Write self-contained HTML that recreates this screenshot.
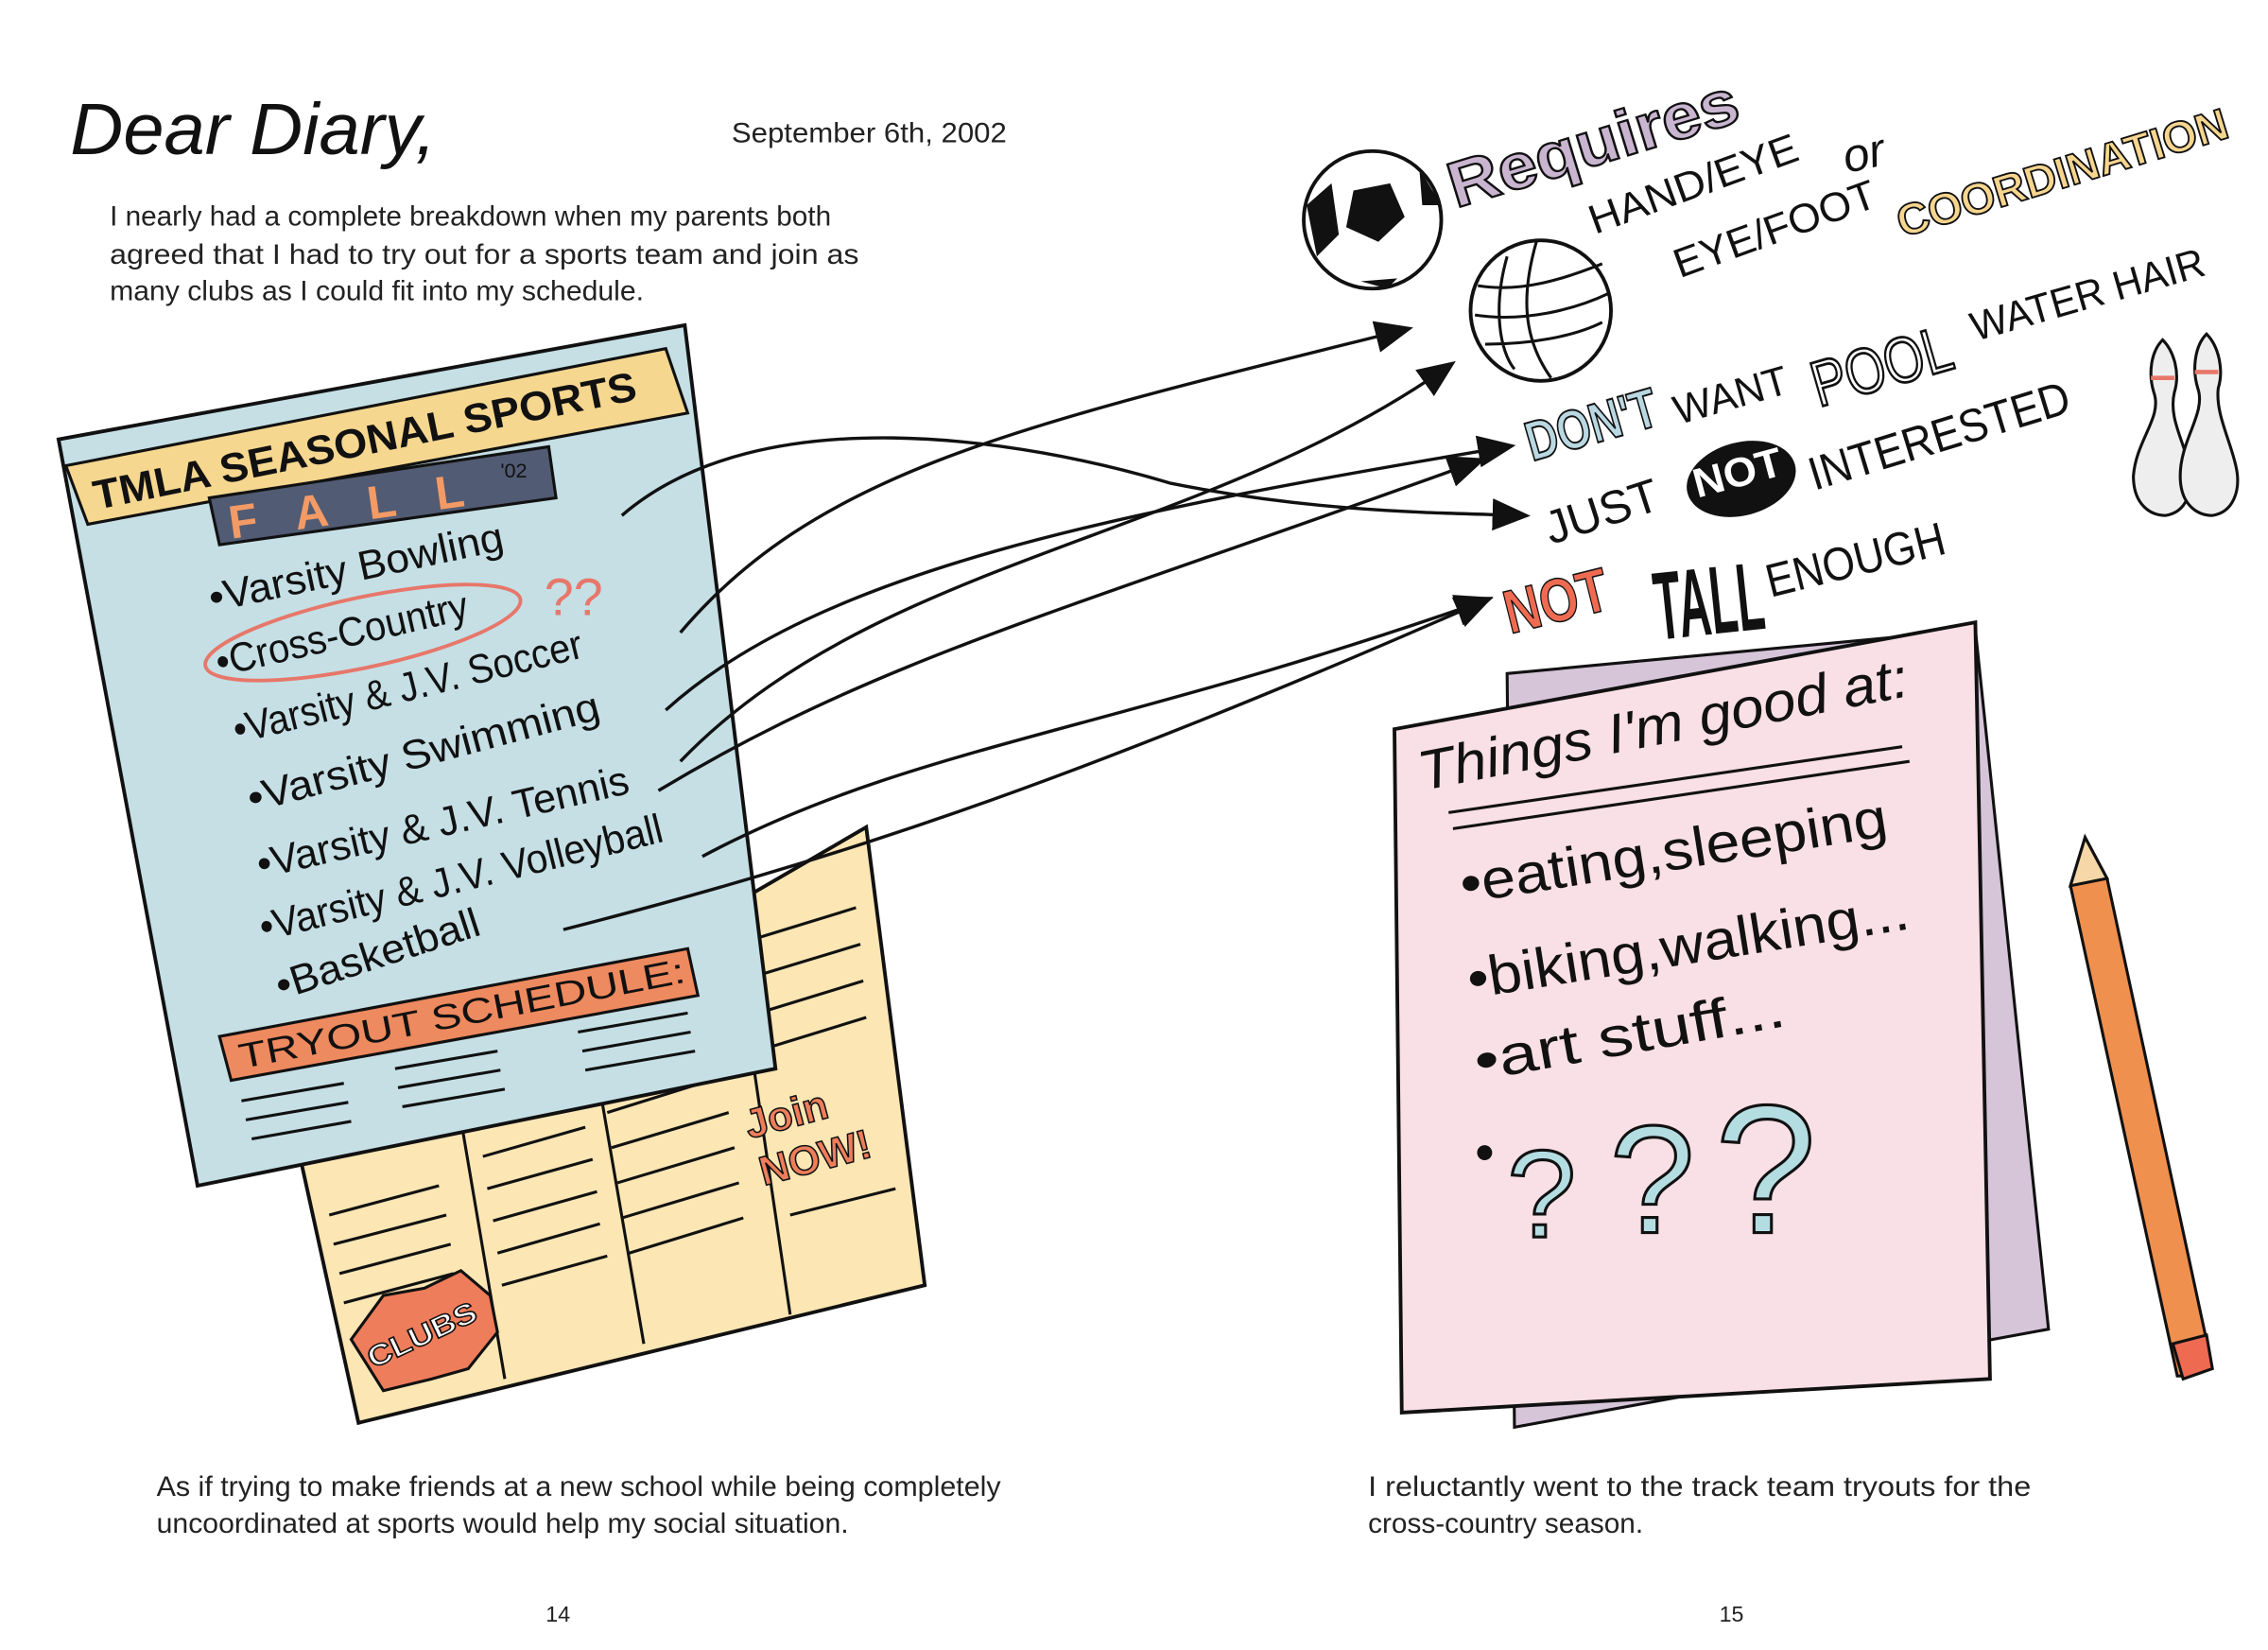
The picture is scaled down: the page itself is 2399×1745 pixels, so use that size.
<!DOCTYPE html>
<html><head><meta charset="utf-8"><style>
html,body{margin:0;padding:0;background:#fff;}
svg{display:block;}
text{font-family:"Liberation Sans",sans-serif;}
.h{font-family:"Liberation Sans Narrow","Liberation Sans",sans-serif;}
</style></head><body>
<svg width="2399" height="1745" viewBox="0 0 1550 1127" xmlns="http://www.w3.org/2000/svg">
<rect width="1550" height="1127" fill="#fff"/>
<text x="48" y="105" font-family="Liberation Serif" font-style="italic" font-size="50" fill="#111" textLength="250" lengthAdjust="spacingAndGlyphs">Dear Diary,</text>
<text x="500" y="97" font-size="19" fill="#222" textLength="188" lengthAdjust="spacingAndGlyphs">September 6th, 2002</text>
<text x="75" y="154" font-size="19" fill="#222" textLength="493" lengthAdjust="spacingAndGlyphs">I nearly had a complete breakdown when my parents both</text>
<text x="75" y="180" font-size="19" fill="#222" textLength="512" lengthAdjust="spacingAndGlyphs">agreed that I had to try out for a sports team and join as</text>
<text x="75" y="205" font-size="19" fill="#222" textLength="365" lengthAdjust="spacingAndGlyphs">many clubs as I could fit into my schedule.</text>

<!-- yellow brochure -->
<polygon points="205,790 592,565 632,878 245,972" fill="#fbe6b4" stroke="#111" stroke-width="2.5"/>
<line x1="315" y1="765" x2="345" y2="942" stroke="#111" stroke-width="2"/>
<line x1="405" y1="715" x2="440" y2="918" stroke="#111" stroke-width="2"/>
<line x1="505" y1="660" x2="540" y2="898" stroke="#111" stroke-width="2"/>
<g stroke="#111" stroke-width="2">
<line x1="225" y1="830" x2="300" y2="810"/><line x1="228" y1="850" x2="305" y2="830"/><line x1="232" y1="870" x2="308" y2="850"/><line x1="235" y1="890" x2="310" y2="870"/>
<line x1="330" y1="790" x2="400" y2="770"/><line x1="333" y1="812" x2="405" y2="792"/><line x1="337" y1="834" x2="408" y2="814"/><line x1="340" y1="856" x2="410" y2="836"/><line x1="343" y1="878" x2="415" y2="858"/>
<line x1="415" y1="760" x2="495" y2="735"/><line x1="418" y1="784" x2="498" y2="760"/><line x1="422" y1="808" x2="502" y2="784"/><line x1="425" y1="832" x2="505" y2="808"/><line x1="430" y1="856" x2="508" y2="832"/>
<line x1="520" y1="640" x2="585" y2="620"/><line x1="522" y1="665" x2="588" y2="645"/><line x1="525" y1="690" x2="590" y2="670"/><line x1="527" y1="715" x2="592" y2="695"/><line x1="540" y1="830" x2="612" y2="812"/>
</g>
<polygon points="240,915 262,885 290,880 315,868 335,885 340,910 320,935 295,942 262,950" fill="#ee7d5b" stroke="#111" stroke-width="2"/>
<text transform="translate(255,935) rotate(-25)" font-size="20" font-weight="bold" fill="#fff" stroke="#111" stroke-width="1" textLength="80" lengthAdjust="spacingAndGlyphs">CLUBS</text>
<text transform="translate(512,778) rotate(-15)" font-size="28" font-weight="bold" fill="#ee7d5b" stroke="#111" stroke-width="1">Join</text>
<text transform="translate(522,810) rotate(-15)" font-size="28" font-weight="bold" fill="#ee7d5b" stroke="#111" stroke-width="1">NOW!</text>

<!-- blue flyer -->
<polygon points="40,300 468,222 530,730 135,810" fill="#c5dfe5" stroke="#111" stroke-width="2.5"/>
<polygon points="45,318 455,238 470,282 60,358" fill="#f6d78f" stroke="#111" stroke-width="2"/>
<text transform="translate(66,348) rotate(-11.5)" font-size="28" font-weight="bold" fill="#111" textLength="378" lengthAdjust="spacingAndGlyphs">TMLA SEASONAL SPORTS</text>
<polygon points="143,340 375,305 380,340 150,372" fill="#515b73" stroke="#111" stroke-width="2"/>
<text transform="translate(158,368) rotate(-8)" font-size="32" font-weight="bold" fill="#f39a65" letter-spacing="8" textLength="170" lengthAdjust="spacing">FALL</text>
<text x="342" y="326" font-size="14" fill="#111">'02</text>
<g font-family="Liberation Serif" font-size="28" fill="#111">
<text transform="translate(145,418) rotate(-12)" textLength="205" lengthAdjust="spacingAndGlyphs">•Varsity Bowling</text>
<text transform="translate(150,462) rotate(-13)" textLength="176" lengthAdjust="spacingAndGlyphs">•Cross-Country</text>
<text transform="translate(162,508) rotate(-14)" textLength="245" lengthAdjust="spacingAndGlyphs">•Varsity &amp; J.V. Soccer</text>
<text transform="translate(172,555) rotate(-15)" textLength="248" lengthAdjust="spacingAndGlyphs">•Varsity Swimming</text>
<text transform="translate(178,600) rotate(-13)" textLength="260" lengthAdjust="spacingAndGlyphs">•Varsity &amp; J.V. Tennis</text>
<text transform="translate(180,643) rotate(-14)" textLength="283" lengthAdjust="spacingAndGlyphs">•Varsity &amp; J.V. Volleyball</text>
<text transform="translate(192,683) rotate(-18)" textLength="145" lengthAdjust="spacingAndGlyphs">•Basketball</text>
</g>
<ellipse cx="248" cy="432" rx="110" ry="24" fill="none" stroke="#e7776a" stroke-width="2.5" transform="rotate(-12 248 432)"/>
<text x="372" y="420" font-size="36" fill="#e7776a">??</text>
<polygon points="150,708 470,648 477,680 158,738" fill="#ee8a5f" stroke="#111" stroke-width="2"/>
<text transform="translate(165,730) rotate(-11)" font-size="24" fill="#111" font-family="Liberation Serif" textLength="310" lengthAdjust="spacingAndGlyphs">TRYOUT SCHEDULE:</text>
<g stroke="#111" stroke-width="2">
<line x1="165" y1="752" x2="235" y2="740"/><line x1="168" y1="765" x2="238" y2="753"/><line x1="172" y1="778" x2="240" y2="766"/>
<line x1="270" y1="730" x2="340" y2="718"/><line x1="272" y1="743" x2="342" y2="731"/><line x1="275" y1="756" x2="345" y2="744"/>
<line x1="395" y1="705" x2="470" y2="692"/><line x1="398" y1="718" x2="472" y2="705"/><line x1="400" y1="731" x2="475" y2="718"/>
</g>

<!-- arrows -->
<defs><marker id="b" markerWidth="26" markerHeight="22" refX="20" refY="11" orient="auto" markerUnits="userSpaceOnUse"><path d="M0,0 L26,11 L0,22 z" fill="#111"/></marker></defs>
<g fill="none" stroke="#111" stroke-width="2.2" marker-end="url(#b)">
<path d="M425,352 C520,270 700,300 800,330 C900,350 980,350 1040,352"/>
<path d="M465,432 C560,320 700,290 960,225"/>
<path d="M455,485 C560,390 760,350 1030,305"/>
<path d="M465,520 C600,380 820,370 990,250"/>
<path d="M450,540 C600,450 720,420 1010,315"/>
<path d="M480,585 C620,510 760,500 1015,410"/>
<path d="M385,635 C560,590 720,540 1015,410"/>
</g>

<!-- right side -->
<circle cx="938" cy="150" r="47" fill="#fff" stroke="#111" stroke-width="2.5"/>
<polygon points="925,130 950,125 960,148 942,165 920,155" fill="#111"/>
<path d="M893,140 L910,125 L915,160 L900,175 Z M970,115 L985,140 L972,140 Z M930,192 L955,190 L948,197 Z" fill="#111"/>
<circle cx="1053" cy="212" r="48" fill="#fff" stroke="#111" stroke-width="2.5"/>
<path d="M1010,195 C1040,200 1070,190 1095,180 M1008,215 C1040,220 1075,212 1100,200 M1015,235 C1045,235 1075,230 1095,220 M1050,165 C1040,200 1040,230 1060,258 M1030,175 C1020,210 1025,240 1035,252" fill="none" stroke="#111" stroke-width="2"/>
<text transform="translate(995,142) rotate(-17)" font-size="44" font-weight="bold" fill="#c9b5d0" stroke="#111" stroke-width="1.5" textLength="205" lengthAdjust="spacingAndGlyphs">Requires</text>
<text transform="translate(1090,160) rotate(-20)" font-size="28" fill="#111" textLength="150" lengthAdjust="spacingAndGlyphs">HAND/EYE</text>
<text transform="translate(1262,118) rotate(-12)" font-size="32" font-style="italic" fill="#111" font-family="Liberation Serif">or</text>
<text transform="translate(1148,190) rotate(-20)" font-size="28" fill="#111" textLength="145" lengthAdjust="spacingAndGlyphs">EYE/FOOT</text>
<text transform="translate(1300,162) rotate(-17)" font-size="30" font-weight="bold" fill="#f6d58f" stroke="#111" stroke-width="1.2" textLength="235" lengthAdjust="spacingAndGlyphs">COORDINATION</text>
<text transform="translate(1047,315) rotate(-16)" font-size="38" font-weight="bold" fill="#b9d8e2" stroke="#111" stroke-width="1.3" textLength="92" lengthAdjust="spacingAndGlyphs">DON'T</text>
<text transform="translate(1147,290) rotate(-16)" font-size="28" fill="#111" textLength="80" lengthAdjust="spacingAndGlyphs">WANT</text>
<text transform="translate(1243,278) rotate(-16)" font-size="44" fill="#fff" stroke="#111" stroke-width="1.8" textLength="98" lengthAdjust="spacingAndGlyphs">POOL</text>
<text transform="translate(1350,233) rotate(-16)" font-size="28" fill="#111" textLength="165" lengthAdjust="spacingAndGlyphs">WATER HAIR</text>
<text transform="translate(1060,372) rotate(-18)" font-size="32" fill="#111" textLength="80" lengthAdjust="spacingAndGlyphs">JUST</text>
<ellipse cx="1190" cy="327" rx="38" ry="25" fill="#111" transform="rotate(-15 1190 327)"/>
<text transform="translate(1160,340) rotate(-15)" font-size="28" font-weight="bold" fill="#fff" textLength="62" lengthAdjust="spacingAndGlyphs">NOT</text>
<text transform="translate(1240,335) rotate(-17)" font-size="32" fill="#111" textLength="185" lengthAdjust="spacingAndGlyphs">INTERESTED</text>
<text transform="translate(1032,433) rotate(-14)" font-size="42" font-weight="bold" fill="#ee6b52" stroke="#111" stroke-width="1" textLength="72" lengthAdjust="spacingAndGlyphs">NOT</text>
<text transform="translate(1133,437) rotate(-6)" font-size="66" font-weight="bold" fill="#111" textLength="75" lengthAdjust="spacingAndGlyphs">TALL</text>
<text transform="translate(1210,408) rotate(-14)" font-size="32" fill="#111" textLength="125" lengthAdjust="spacingAndGlyphs">ENOUGH</text>
<!-- bowling pins -->
<path d="M1478,232 C1470,240 1468,255 1472,268 C1478,285 1460,300 1458,325 C1458,345 1470,352 1480,352 C1494,350 1500,335 1496,318 C1492,300 1482,285 1486,268 C1490,255 1486,240 1478,232 Z" fill="#eee" stroke="#111" stroke-width="2"/>
<path d="M1508,228 C1500,236 1498,252 1502,265 C1508,282 1490,300 1490,325 C1490,345 1502,352 1512,352 C1526,350 1532,335 1528,318 C1524,300 1514,282 1516,265 C1520,252 1516,236 1508,228 Z" fill="#eee" stroke="#111" stroke-width="2"/>
<line x1="1470" y1="258" x2="1486" y2="258" stroke="#e7776a" stroke-width="3"/><line x1="1500" y1="254" x2="1516" y2="254" stroke="#e7776a" stroke-width="3"/>

<!-- notepad -->
<polygon points="1030,460 1350,430 1400,908 1035,975" fill="#d6c4d9" stroke="#111" stroke-width="2"/>
<polygon points="953,498 1350,425 1360,942 958,965" fill="#f9dfe6" stroke="#111" stroke-width="2.5"/>
<text transform="translate(972,540) rotate(-11)" font-size="38" font-style="italic" font-family="Liberation Serif" fill="#111" textLength="340" lengthAdjust="spacingAndGlyphs">Things I'm good at:</text>
<path d="M990,555 L1300,510 M993,566 L1305,520" stroke="#111" stroke-width="2"/>
<g font-size="38" fill="#111">
<text transform="translate(1000,617) rotate(-9)" textLength="295" lengthAdjust="spacingAndGlyphs">•eating,sleeping</text>
<text transform="translate(1005,682) rotate(-9)" textLength="305" lengthAdjust="spacingAndGlyphs">•biking,walking...</text>
<text transform="translate(1010,738) rotate(-10)" textLength="215" lengthAdjust="spacingAndGlyphs">•art stuff...</text>
<text x="1008" y="800">•</text>
</g>
<g fill="#b4dde2" stroke="#111" stroke-width="2">
<text x="1030" y="845" font-size="85">?</text>
<text x="1100" y="842" font-size="105">?</text>
<text x="1172" y="842" font-size="125">?</text>
</g>
<!-- pencil -->
<polygon points="1415,605 1425,572 1440,600 1510,925 1495,940 1488,940" fill="#f0904f" stroke="#111" stroke-width="2"/>
<polygon points="1415,605 1425,572 1440,600" fill="#f5d7a8" stroke="#111" stroke-width="2"/>
<polygon points="1485,918 1508,912 1512,935 1492,942" fill="#ee6b52" stroke="#111" stroke-width="2"/>

<!-- captions -->
<text x="107" y="1022" font-size="19" fill="#222" textLength="577" lengthAdjust="spacingAndGlyphs">As if trying to make friends at a new school while being completely</text>
<text x="107" y="1047" font-size="19" fill="#222" textLength="473" lengthAdjust="spacingAndGlyphs">uncoordinated at sports would help my social situation.</text>
<text x="935" y="1022" font-size="19" fill="#222" textLength="453" lengthAdjust="spacingAndGlyphs">I reluctantly went to the track team tryouts for the</text>
<text x="935" y="1047" font-size="19" fill="#222" textLength="188" lengthAdjust="spacingAndGlyphs">cross-country season.</text>
<text x="373" y="1108" font-size="15" fill="#222">14</text>
<text x="1175" y="1108" font-size="15" fill="#222">15</text>
</svg>
</body></html>
